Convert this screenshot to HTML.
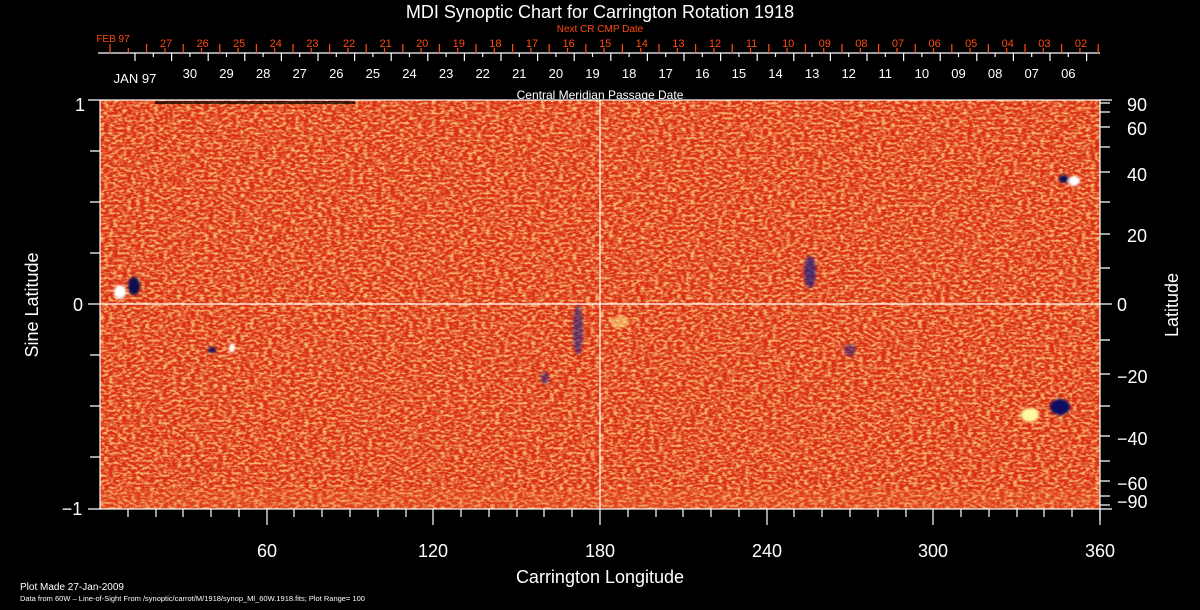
<!DOCTYPE html>
<html><head><meta charset="utf-8"><style>
html,body{margin:0;padding:0;background:#000;}
svg{display:block;}
</style></head><body>
<svg width="1200" height="610" viewBox="0 0 1200 610" xmlns="http://www.w3.org/2000/svg" font-family="Liberation Sans, sans-serif">
<defs>
<filter id="n" x="0" y="0" width="100%" height="100%">
<feTurbulence type="fractalNoise" baseFrequency="0.22 0.4" numOctaves="2" seed="5"/>
<feColorMatrix type="matrix" values="0 0 0 0 0.95  0 0 0 0 0.48  0 0 0 0 0.16  3 0 0 0 -1.2"/>
</filter>
<filter id="b"><feGaussianBlur stdDeviation="1.2"/></filter>
</defs>
<rect width="1200" height="610" fill="#000"/>
<rect x="100" y="100" width="1000" height="409" fill="#da3016"/>
<rect x="100" y="100" width="1000" height="409" filter="url(#n)"/>
<rect x="100" y="490" width="1000" height="19" fill="#f07a3a" opacity="0.2"/>
<rect x="155" y="101" width="200" height="3" fill="#000" opacity="0.7"/>
<g filter="url(#b)">
<ellipse cx="120" cy="292" rx="6" ry="7" fill="#fff"/>
<ellipse cx="134" cy="286" rx="6" ry="9" fill="#0a0a50"/>
<ellipse cx="1074" cy="181" rx="6" ry="5" fill="#fff"/>
<ellipse cx="1064" cy="179" rx="5" ry="4" fill="#0a0a50"/>
<ellipse cx="1030" cy="415" rx="9" ry="7" fill="#fff8a0"/>
<ellipse cx="1060" cy="407" rx="10" ry="8" fill="#0a0a60"/>
<ellipse cx="232" cy="348" rx="3" ry="5" fill="#fff"/>
<ellipse cx="212" cy="350" rx="4" ry="3" fill="#0a0a60"/>
<ellipse cx="810" cy="272" rx="6" ry="16" fill="#1a1a80" opacity="0.7"/>
<ellipse cx="578" cy="330" rx="5" ry="25" fill="#1a1a80" opacity="0.6"/>
<ellipse cx="545" cy="378" rx="4" ry="6" fill="#1a1a80" opacity="0.6"/>
<ellipse cx="620" cy="322" rx="10" ry="6" fill="#ffe080" opacity="0.6"/>
<ellipse cx="850" cy="350" rx="6" ry="6" fill="#1a1a80" opacity="0.5"/>
</g>
<g stroke="#fff" stroke-width="1.2" fill="none">
<rect x="100" y="100" width="1000" height="409"/>
<line x1="600" y1="100" x2="600" y2="509"/>
<line x1="100" y1="304" x2="1100" y2="304"/>
<path d="M88 100h12M88 509h12M90 151h10M90 202h10M90 253h10M88 304h12M90 355h10M90 406h10M90 457h10"/>
<path d="M1100 100h12M1100 103h10M1100 112h10M1100 127h10M1100 147h10M1100 172h10M1100 202h10M1100 234h10M1100 268h10M1100 304h12M1100 340h10M1100 374h10M1100 406h10M1100 436h10M1100 461h10M1100 481h10M1100 496h10M1100 505h10M1100 509h12M1100 509v11"/>
<path d="M128 509v8M156 509v8M183 509v8M211 509v8M239 509v8M267 509v16M294 509v8M322 509v8M350 509v8M378 509v8M406 509v8M433 509v16M461 509v8M489 509v8M517 509v8M544 509v8M572 509v8M600 509v16M628 509v8M656 509v8M683 509v8M711 509v8M739 509v8M767 509v16M794 509v8M822 509v8M850 509v8M878 509v8M906 509v8M933 509v16M961 509v8M989 509v8M1017 509v8M1044 509v8M1072 509v8M1100 509v16"/>
<line x1="98" y1="53" x2="1100" y2="53"/>
<path d="M135 53v8m36.6 -8v8m36.6 -8v8m36.6 -8v8m36.6 -8v8m36.6 -8v8m36.6 -8v8m36.6 -8v8m36.6 -8v8m36.6 -8v8m36.6 -8v8m36.6 -8v8m36.6 -8v8m36.6 -8v8m36.6 -8v8m36.6 -8v8m36.6 -8v8m36.6 -8v8m36.6 -8v8m36.6 -8v8m36.6 -8v8m36.6 -8v8m36.6 -8v8m36.6 -8v8m36.6 -8v8m36.6 -8v8m36.6 -8v8"/>
<path d="M153.3 53v4m36.6 -4v4m36.6 -4v4m36.6 -4v4m36.6 -4v4m36.6 -4v4m36.6 -4v4m36.6 -4v4m36.6 -4v4m36.6 -4v4m36.6 -4v4m36.6 -4v4m36.6 -4v4m36.6 -4v4m36.6 -4v4m36.6 -4v4m36.6 -4v4m36.6 -4v4m36.6 -4v4m36.6 -4v4m36.6 -4v4m36.6 -4v4m36.6 -4v4m36.6 -4v4m36.6 -4v4m36.6 -4v4"/>
</g>
<g stroke="#ff4a10" stroke-width="1.2" fill="none">
<path d="M110 53v-9m36.6 9v-9m36.6 9v-9m36.6 9v-9m36.6 9v-9m36.6 9v-9m36.6 9v-9m36.6 9v-9m36.6 9v-9m36.6 9v-9m36.6 9v-9m36.6 9v-9m36.6 9v-9m36.6 9v-9m36.6 9v-9m36.6 9v-9m36.6 9v-9m36.6 9v-9m36.6 9v-9m36.6 9v-9m36.6 9v-9m36.6 9v-9m36.6 9v-9m36.6 9v-9m36.6 9v-9m36.6 9v-9m36.6 9v-9m36.6 9v-9"/>
<path d="M128.3 53v-5m36.6 5v-5m36.6 5v-5m36.6 5v-5m36.6 5v-5m36.6 5v-5m36.6 5v-5m36.6 5v-5m36.6 5v-5m36.6 5v-5m36.6 5v-5m36.6 5v-5m36.6 5v-5m36.6 5v-5m36.6 5v-5m36.6 5v-5m36.6 5v-5m36.6 5v-5m36.6 5v-5m36.6 5v-5m36.6 5v-5m36.6 5v-5m36.6 5v-5m36.6 5v-5m36.6 5v-5m36.6 5v-5m36.6 5v-5"/>
</g>
<g fill="#ff4a10" font-size="11" text-anchor="middle">
<text x="166" y="47">27</text><text x="202.6" y="47">26</text><text x="239.2" y="47">25</text><text x="275.8" y="47">24</text><text x="312.4" y="47">23</text><text x="349" y="47">22</text><text x="385.6" y="47">21</text><text x="422.2" y="47">20</text><text x="458.8" y="47">19</text><text x="495.4" y="47">18</text><text x="532" y="47">17</text><text x="568.6" y="47">16</text><text x="605.2" y="47">15</text><text x="641.8" y="47">14</text><text x="678.4" y="47">13</text><text x="715" y="47">12</text><text x="751.6" y="47">11</text><text x="788.2" y="47">10</text><text x="824.8" y="47">09</text><text x="861.4" y="47">08</text><text x="898" y="47">07</text><text x="934.6" y="47">06</text><text x="971.2" y="47">05</text><text x="1007.8" y="47">04</text><text x="1044.4" y="47">03</text><text x="1081" y="47">02</text>
<text x="600" y="32" font-size="10">Next CR CMP Date</text>
<text x="113" y="42" font-size="10">FEB 97</text>
</g>
<g fill="#fff" font-size="13" text-anchor="middle">
<text x="189.9" y="78">30</text><text x="226.5" y="78">29</text><text x="263.1" y="78">28</text><text x="299.7" y="78">27</text><text x="336.3" y="78">26</text><text x="372.9" y="78">25</text><text x="409.5" y="78">24</text><text x="446.1" y="78">23</text><text x="482.7" y="78">22</text><text x="519.3" y="78">21</text><text x="555.9" y="78">20</text><text x="592.5" y="78">19</text><text x="629.1" y="78">18</text><text x="665.7" y="78">17</text><text x="702.3" y="78">16</text><text x="738.9" y="78">15</text><text x="775.5" y="78">14</text><text x="812.1" y="78">13</text><text x="848.7" y="78">12</text><text x="885.3" y="78">11</text><text x="921.9" y="78">10</text><text x="958.5" y="78">09</text><text x="995.1" y="78">08</text><text x="1031.7" y="78">07</text><text x="1068.3" y="78">06</text>
<text x="135" y="83">JAN 97</text>
<text x="600" y="99" font-size="12">Central Meridian Passage Date</text>
</g>
<g fill="#fff" font-size="18" text-anchor="middle">
<text x="600" y="18">MDI Synoptic Chart for Carrington Rotation 1918</text>
<text x="267" y="557">60</text>
<text x="433" y="557">120</text>
<text x="600" y="557">180</text>
<text x="767" y="557">240</text>
<text x="933" y="557">300</text>
<text x="1100" y="557">360</text>
<text x="600" y="583">Carrington Longitude</text>
<text x="80" y="111">1</text>
<text x="78" y="311">0</text>
<text x="72" y="515">−1</text>
<text transform="translate(38,305) rotate(-90)">Sine Latitude</text>
<text transform="translate(1178,305) rotate(-90)">Latitude</text>
</g>
<g fill="#fff" font-size="18" text-anchor="start">
<text x="1127" y="111">90</text>
<text x="1127" y="135">60</text>
<text x="1127" y="181">40</text>
<text x="1127" y="242">20</text>
<text x="1117" y="311">0</text>
<text x="1117" y="383">−20</text>
<text x="1117" y="445">−40</text>
<text x="1117" y="490">−60</text>
<text x="1117" y="508">−90</text>
</g>
<g fill="#fff">
<text x="20" y="590" font-size="10">Plot Made 27-Jan-2009</text>
<text x="20" y="601" font-size="7.5">Data from 60W – Line-of-Sight From /synoptic/carrot/M/1918/synop_Ml_60W.1918.fits; Plot Range=  100</text>
</g>
</svg>
</body></html>
